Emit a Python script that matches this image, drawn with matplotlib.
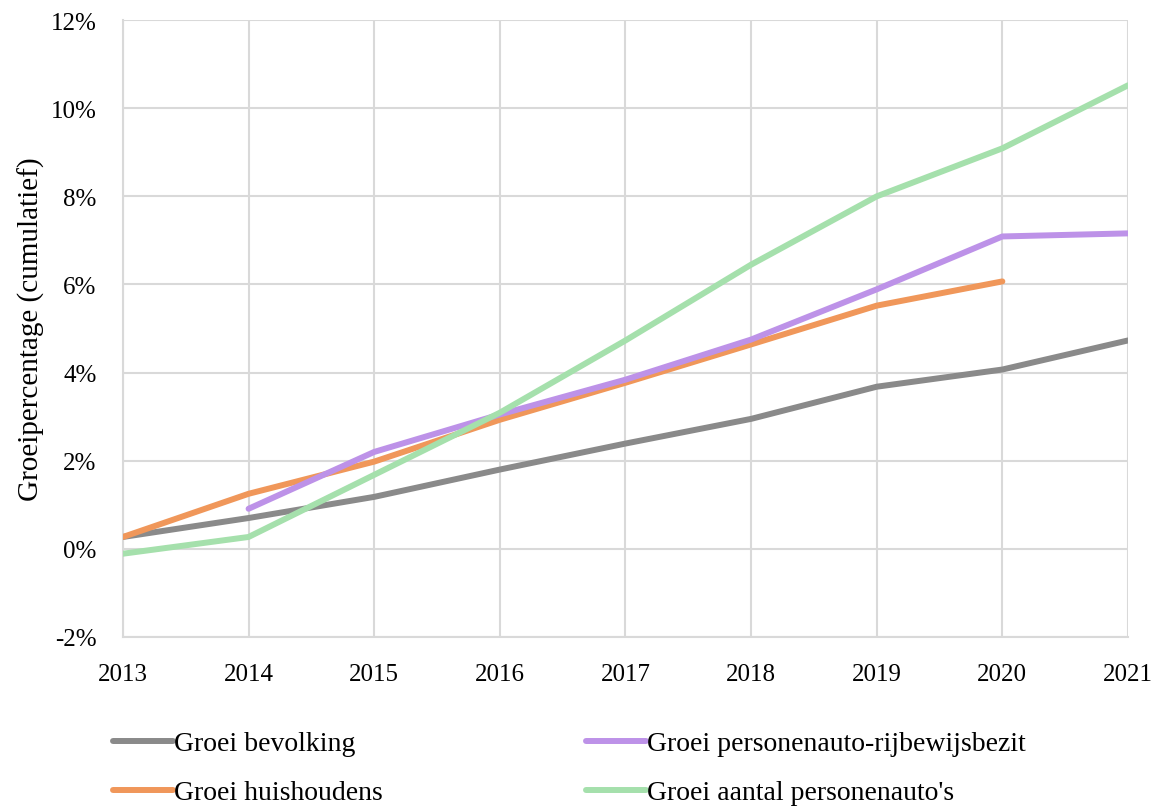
import matplotlib.pyplot as plt
from matplotlib.ticker import FuncFormatter

jaren = [2013, 2014, 2015, 2016, 2017, 2018, 2019, 2020, 2021]

bevolking = [0.27, 0.70, 1.18, 1.80, 2.39, 2.95, 3.68, 4.07, 4.73]
huishoudens = [0.27, 1.25, 1.98, 2.93, 3.77, 4.64, 5.52, 6.07, None]
rijbewijsbezit = [None, 0.91, 2.20, 3.05, 3.84, 4.75, 5.89, 7.09, 7.16]
personenautos = [-0.11, 0.27, 1.68, 3.09, 4.73, 6.45, 8.00, 9.09, 10.52]

series = [
    ("Groei bevolking", bevolking, "#8a8a8a"),
    ("Groei huishoudens", huishoudens, "#f0975a"),
    ("Groei personenauto-rijbewijsbezit", rijbewijsbezit, "#bd92e8"),
    ("Groei aantal personenauto's", personenautos, "#a5e0ac"),
]

plt.rcParams["font.family"] = ["Liberation Serif", "DejaVu Serif"]

fig = plt.figure(figsize=(11.6, 8.12), dpi=100)
ax = fig.add_axes([0.106, 0.2143, 0.8664, 0.7597])

for naam, waarden, kleur in series:
    xs = [j for j, w in zip(jaren, waarden) if w is not None]
    ys = [w for w in waarden if w is not None]
    ax.plot(xs, ys, color=kleur, linewidth=4.3, label=naam,
            solid_capstyle="round", zorder=3)

ax.set_xlim(2013, 2021)
ax.set_ylim(-2, 12)
ax.set_xticks(jaren)
ax.set_yticks(range(-2, 13, 2))
ax.yaxis.set_major_formatter(FuncFormatter(lambda v, p: f"{int(v)}%"))

ax.grid(True, color="#d9d9d9", linewidth=1.5, zorder=0)
for s in ["top", "right"]:
    ax.spines[s].set_visible(False)
for s in ["left", "bottom"]:
    ax.spines[s].set_color("#d9d9d9")
    ax.spines[s].set_linewidth(1.5)
ax.tick_params(length=0, labelsize=18, colors="black")
ax.tick_params(axis="x", pad=19)
ax.tick_params(axis="y", pad=19)

ax.set_ylabel("Groeipercentage (cumulatief)", fontsize=21, labelpad=4)

fig.legend(loc="lower left", bbox_to_anchor=(0.076, -0.024), ncol=2,
           frameon=False, fontsize=20, handlelength=2.15, handletextpad=0.05,
           columnspacing=7.3, labelspacing=0.85)

fig.savefig("out.png", dpi=100)
